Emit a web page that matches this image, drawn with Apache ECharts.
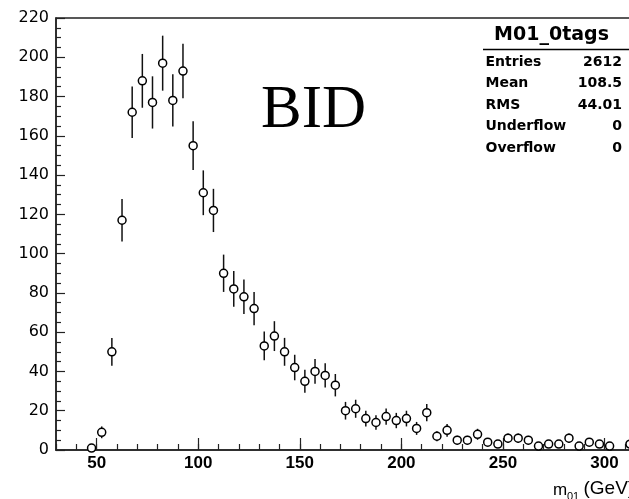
<!DOCTYPE html>
<html>
<head>
<meta charset="utf-8">
<script src="https://cdn.jsdelivr.net/npm/echarts@6/dist/echarts.min.js"></script>
<style>
html,body{margin:0;padding:0;background:#fff;}
#chart{width:629px;height:499px;}
</style>
</head>
<body>
<div id="chart"></div>
<script>
// ---- data (bin centres in GeV, counts, Poisson errors) ----
var binCenters = [47.5, 52.5, 57.5, 62.5, 67.5, 72.5, 77.5, 82.5, 87.5, 92.5,
  97.5, 102.5, 107.5, 112.5, 117.5, 122.5, 127.5, 132.5, 137.5, 142.5,
  147.5, 152.5, 157.5, 162.5, 167.5, 172.5, 177.5, 182.5, 187.5, 192.5,
  197.5, 202.5, 207.5, 212.5, 217.5, 222.5, 227.5, 232.5, 237.5, 242.5,
  247.5, 252.5, 257.5, 262.5, 267.5, 272.5, 277.5, 282.5, 287.5, 292.5,
  297.5, 302.5, 312.5];
var counts = [1, 9, 50, 117, 172, 188, 177, 197, 178, 193,
  155, 131, 122, 90, 82, 78, 72, 53, 58, 50,
  42, 35, 40, 38, 33, 20, 21, 16, 14, 17,
  15, 16, 11, 19, 7, 10, 5, 5, 8, 4,
  3, 6, 6, 5, 2, 3, 3, 6, 2, 4,
  3, 2, 3];
var errors = [1.0, 3.0, 7.1, 10.8, 13.1, 13.7, 13.3, 14.0, 13.3, 13.9,
  12.4, 11.4, 11.0, 9.5, 9.1, 8.8, 8.5, 7.3, 7.6, 7.1,
  6.5, 5.9, 6.3, 6.2, 5.7, 4.5, 4.6, 4.0, 3.7, 4.1,
  3.9, 4.0, 3.3, 4.4, 2.6, 3.2, 2.2, 2.2, 2.8, 2.0,
  1.7, 2.4, 2.4, 2.2, 1.4, 1.7, 1.7, 2.4, 1.4, 2.0,
  1.7, 1.4, 1.7];
var statNames = ['Entries', 'Mean', 'RMS', 'Underflow', 'Overflow'];
var statValues = ['2612', '108.5', '44.01', '0', '0'];
var histTitle = 'M01_0tags';
var overlayText = 'BID';

var points = binCenters.map(function (c, i) { return [c, counts[i], errors[i]]; });

var chart = echarts.init(document.getElementById('chart'), null, {renderer: 'canvas'});

var axisColor = '#222';
var X_MIN = 30, X_MAX = 315;
var G_LEFT = 56, G_RIGHT = -6, G_TOP = 18, G_BOTTOM = 49;
var pxPerUnit = (629 - G_LEFT - G_RIGHT) / (X_MAX - X_MIN);
var G2_LEFT = G_LEFT - X_MIN * pxPerUnit; // second grid whose axis starts at 0 (for the major ticks every 50)

var graphics = [];
graphics.push({type: 'text', left: 261, top: 80, z: 10,
  style: {text: overlayText, font: '61px "Liberation Serif", "Times New Roman", serif', fill: '#000'}});
graphics.push({type: 'text', x: 551.5, y: 35, z: 10,
  style: {text: histTitle, font: 'bold 19px "DejaVu Sans", sans-serif', fill: '#000', align: 'center', verticalAlign: 'middle'}});
graphics.push({type: 'rect', z: 10, shape: {x: 483, y: 48.75, width: 160, height: 1.5}, style: {fill: '#000'}});
var rowY = [62.3, 83.5, 105, 126.7, 148.3];
statNames.forEach(function (n, i) {
  graphics.push({type: 'text', x: 485.5, y: rowY[i], z: 10,
    style: {text: n, font: 'bold 14px "DejaVu Sans", sans-serif', fill: '#000', align: 'left', verticalAlign: 'middle'}});
  graphics.push({type: 'text', x: 622, y: rowY[i], z: 10,
    style: {text: statValues[i], font: 'bold 14px "DejaVu Sans", sans-serif', fill: '#000', align: 'right', verticalAlign: 'middle'}});
});
// axis title m_01 (GeV)
graphics.push({type: 'text', x: 553, y: 490, z: 10,
  style: {text: 'm', font: '17px "Liberation Sans", Arial, sans-serif', fill: '#000', align: 'left', verticalAlign: 'middle'}});
graphics.push({type: 'text', x: 567, y: 497, z: 10,
  style: {text: '01', font: '11px "Liberation Sans", Arial, sans-serif', fill: '#000', align: 'left', verticalAlign: 'middle'}});
graphics.push({type: 'text', x: 583.5, y: 489, z: 10,
  style: {text: '(GeV)', font: '19px "Liberation Sans", Arial, sans-serif', fill: '#000', align: 'left', verticalAlign: 'middle'}});

var option = {
  animation: false,
  backgroundColor: '#fff',
  grid: [
    {left: G_LEFT, right: G_RIGHT, top: G_TOP, bottom: G_BOTTOM, outerBoundsMode: 'none', containLabel: false,
      show: true, borderColor: axisColor, borderWidth: 1.5, backgroundColor: 'transparent'},
    {left: G2_LEFT, right: G_RIGHT, top: G_TOP, bottom: G_BOTTOM, outerBoundsMode: 'none', containLabel: false, show: false}
  ],
  xAxis: [{
    gridIndex: 0, type: 'value', min: X_MIN, max: X_MAX, interval: 10, position: 'bottom',
    axisLine: {show: true, lineStyle: {color: axisColor, width: 1.5}},
    axisTick: {show: true, inside: true, length: 6, lineStyle: {color: axisColor, width: 1.2}},
    axisLabel: {show: false},
    splitLine: {show: false}
  }, {
    gridIndex: 1, type: 'value', min: 0, max: X_MAX, interval: 50, position: 'bottom',
    axisLine: {show: false},
    axisTick: {show: true, inside: true, length: 12, lineStyle: {color: axisColor, width: 1.2}},
    axisLabel: {show: true, margin: 5, color: '#000', showMinLabel: false, showMaxLabel: false,
      formatter: function (v) { return v > 0 ? String(v) : ''; },
      fontFamily: '"Liberation Sans", Arial, sans-serif', fontWeight: 'bold', fontSize: 17},
    splitLine: {show: false}
  }],
  yAxis: [{
    gridIndex: 0, type: 'value', min: 0, max: 220, interval: 20,
    axisLine: {show: true, lineStyle: {color: axisColor, width: 1.5}},
    axisTick: {show: true, inside: true, length: 9, lineStyle: {color: axisColor, width: 1.2}},
    minorTick: {show: true, splitNumber: 4, length: 5, lineStyle: {color: axisColor, width: 1.2}},
    axisLabel: {margin: 7, color: '#000', fontFamily: '"DejaVu Sans", sans-serif', fontSize: 16},
    splitLine: {show: false}
  }, {
    gridIndex: 1, type: 'value', min: 0, max: 220, show: false
  }],
  series: [{
    type: 'custom',
    xAxisIndex: 0, yAxisIndex: 0,
    data: points,
    encode: {x: 0, y: 1},
    z: 2,
    renderItem: function (params, api) {
      var x = api.value(0), y = api.value(1), e = api.value(2);
      var p1 = api.coord([x, y - e]);
      var p2 = api.coord([x, y + e]);
      return {type: 'line', shape: {x1: p1[0], y1: p1[1], x2: p2[0], y2: p2[1]},
        style: {stroke: '#111', lineWidth: 1.5}};
    }
  }, {
    type: 'scatter',
    xAxisIndex: 0, yAxisIndex: 0,
    data: points.map(function (p) { return [p[0], p[1]]; }),
    symbol: 'circle',
    symbolSize: 8,
    clip: false,
    z: 3,
    itemStyle: {color: '#fff', borderColor: '#000', borderWidth: 1.5, opacity: 1}
  }],
  graphic: graphics
};
chart.setOption(option);
</script>
</body>
</html>
